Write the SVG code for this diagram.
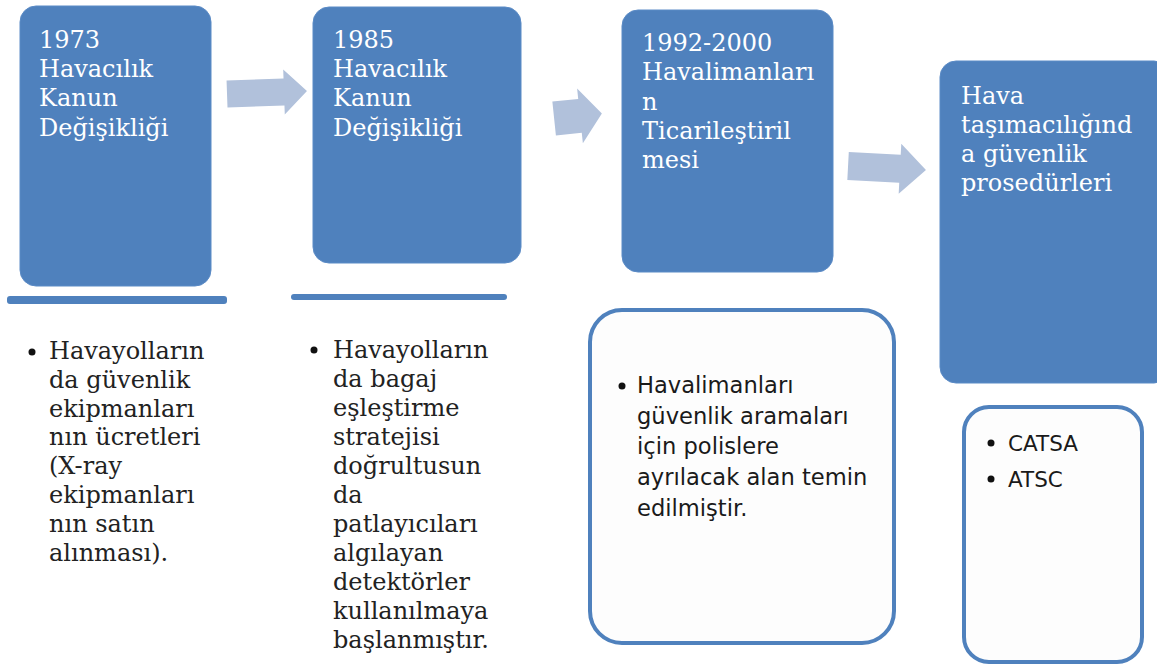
<svg xmlns="http://www.w3.org/2000/svg" width="1157" height="666" viewBox="0 0 1157 666">
<style>
.box{fill:#4F81BD;stroke:#5B8BC6;stroke-width:1}
.card{fill:#FDFDFD;stroke:#4F81BD;stroke-width:4}
.bar{fill:#4F81BD}
.arrow{fill:#B1C1DB}
.ht{font-family:"DejaVu Serif","Liberation Serif",serif;font-size:24px;fill:#FFFFFF}
.st{font-family:"DejaVu Serif","Liberation Serif",serif;font-size:24px;fill:#222222}
.ss{font-family:"DejaVu Sans","Open Sans",sans-serif;font-size:22.6px;fill:#1a1a1a}
.ss2{font-family:"DejaVu Sans","Open Sans",sans-serif;font-size:21.5px;fill:#1a1a1a}
.dot{fill:#111111}
</style>
<rect width="1157" height="666" fill="#FFFFFF"/>
<g id="connectors">
  <polygon class="arrow" transform="translate(267,92.5) rotate(-2)" points="-40,-13.5 17,-13.5 17,-22.5 40,0 17,22.5 17,13.5 -40,13.5"/>
  <polygon class="arrow" transform="translate(578,116) rotate(-6)" points="-24,-17 2,-17 2,-27.5 24,0 2,27.5 2,17 -24,17"/>
  <polygon class="arrow" transform="translate(887,168) rotate(3)" points="-39,-14 13,-14 13,-25 39,0 13,25 13,14 -39,14"/>
</g>
<g id="node-1973">
  <rect class="box" x="20" y="6" width="191" height="280" rx="16"/>
  <text class="ht"><tspan x="39" y="47.5">1973</tspan><tspan x="39" y="76.8">Havacılık</tspan><tspan x="39" y="106.3">Kanun</tspan><tspan x="39" y="135.6">Değişikliği</tspan></text>
</g>
<g id="bar-1"><rect class="bar" x="7" y="296" width="220" height="8" rx="3"/></g>
<g id="node-1985">
  <rect class="box" x="313" y="7" width="208" height="256" rx="16"/>
  <text class="ht"><tspan x="333" y="47.5">1985</tspan><tspan x="333" y="76.8">Havacılık</tspan><tspan x="333" y="106.3">Kanun</tspan><tspan x="333" y="135.8">Değişikliği</tspan></text>
</g>
<g id="bar-2"><rect class="bar" x="291" y="294" width="216" height="6" rx="3"/></g>
<g id="node-1992">
  <rect class="box" x="622" y="10" width="211" height="262" rx="16"/>
  <text class="ht"><tspan x="642" y="51">1992-2000</tspan><tspan x="642" y="80.3">Havalimanları</tspan><tspan x="642" y="109.6">n</tspan><tspan x="642" y="138.9">Ticarileştiril</tspan><tspan x="642" y="168.2">mesi</tspan></text>
</g>
<g id="node-hava">
  <rect class="box" x="940" y="61" width="230" height="322" rx="16"/>
  <text class="ht"><tspan x="961" y="103.5">Hava</tspan><tspan x="961" y="132.8">taşımacılığınd</tspan><tspan x="961" y="162">a güvenlik</tspan><tspan x="961" y="191">prosedürleri</tspan></text>
</g>
<g id="list-1">
  <circle class="dot" cx="32" cy="352" r="3.5"/>
  <text class="st"><tspan x="49" y="359">Havayolların</tspan><tspan x="49" y="387.8">da güvenlik</tspan><tspan x="49" y="416.6">ekipmanları</tspan><tspan x="49" y="445.4">nın ücretleri</tspan><tspan x="49" y="474.2">(X-ray</tspan><tspan x="49" y="503">ekipmanları</tspan><tspan x="49" y="531.8">nın satın</tspan><tspan x="49" y="560.6">alınması).</tspan></text>
</g>
<g id="list-2">
  <circle class="dot" cx="314" cy="350" r="3.5"/>
  <text class="st"><tspan x="333" y="357.5">Havayolların</tspan><tspan x="333" y="386.5">da bagaj</tspan><tspan x="333" y="415.5">eşleştirme</tspan><tspan x="333" y="444.5">stratejisi</tspan><tspan x="333" y="473.5">doğrultusun</tspan><tspan x="333" y="502.5">da</tspan><tspan x="333" y="531.5">patlayıcıları</tspan><tspan x="333" y="560.5">algılayan</tspan><tspan x="333" y="589.5">detektörler</tspan><tspan x="333" y="618.5">kullanılmaya</tspan><tspan x="333" y="647.5">başlanmıştır.</tspan></text>
</g>
<g id="card-3">
  <rect class="card" x="590" y="310" width="304" height="333" rx="32"/>
  <circle class="dot" cx="622" cy="386" r="3.5"/>
  <text class="ss"><tspan x="637" y="393">Havalimanları</tspan><tspan x="637" y="423.7">güvenlik aramaları</tspan><tspan x="637" y="454.4">için polislere</tspan><tspan x="637" y="485.1">ayrılacak alan temin</tspan><tspan x="637" y="515.8">edilmiştir.</tspan></text>
</g>
<g id="card-4">
  <rect class="card" x="964" y="407" width="178" height="255" rx="25"/>
  <circle class="dot" cx="991" cy="443" r="3.5"/>
  <circle class="dot" cx="991" cy="479" r="3.5"/>
  <text class="ss2"><tspan x="1008" y="451">CATSA</tspan><tspan x="1008" y="487">ATSC</tspan></text>
</g>
</svg>
